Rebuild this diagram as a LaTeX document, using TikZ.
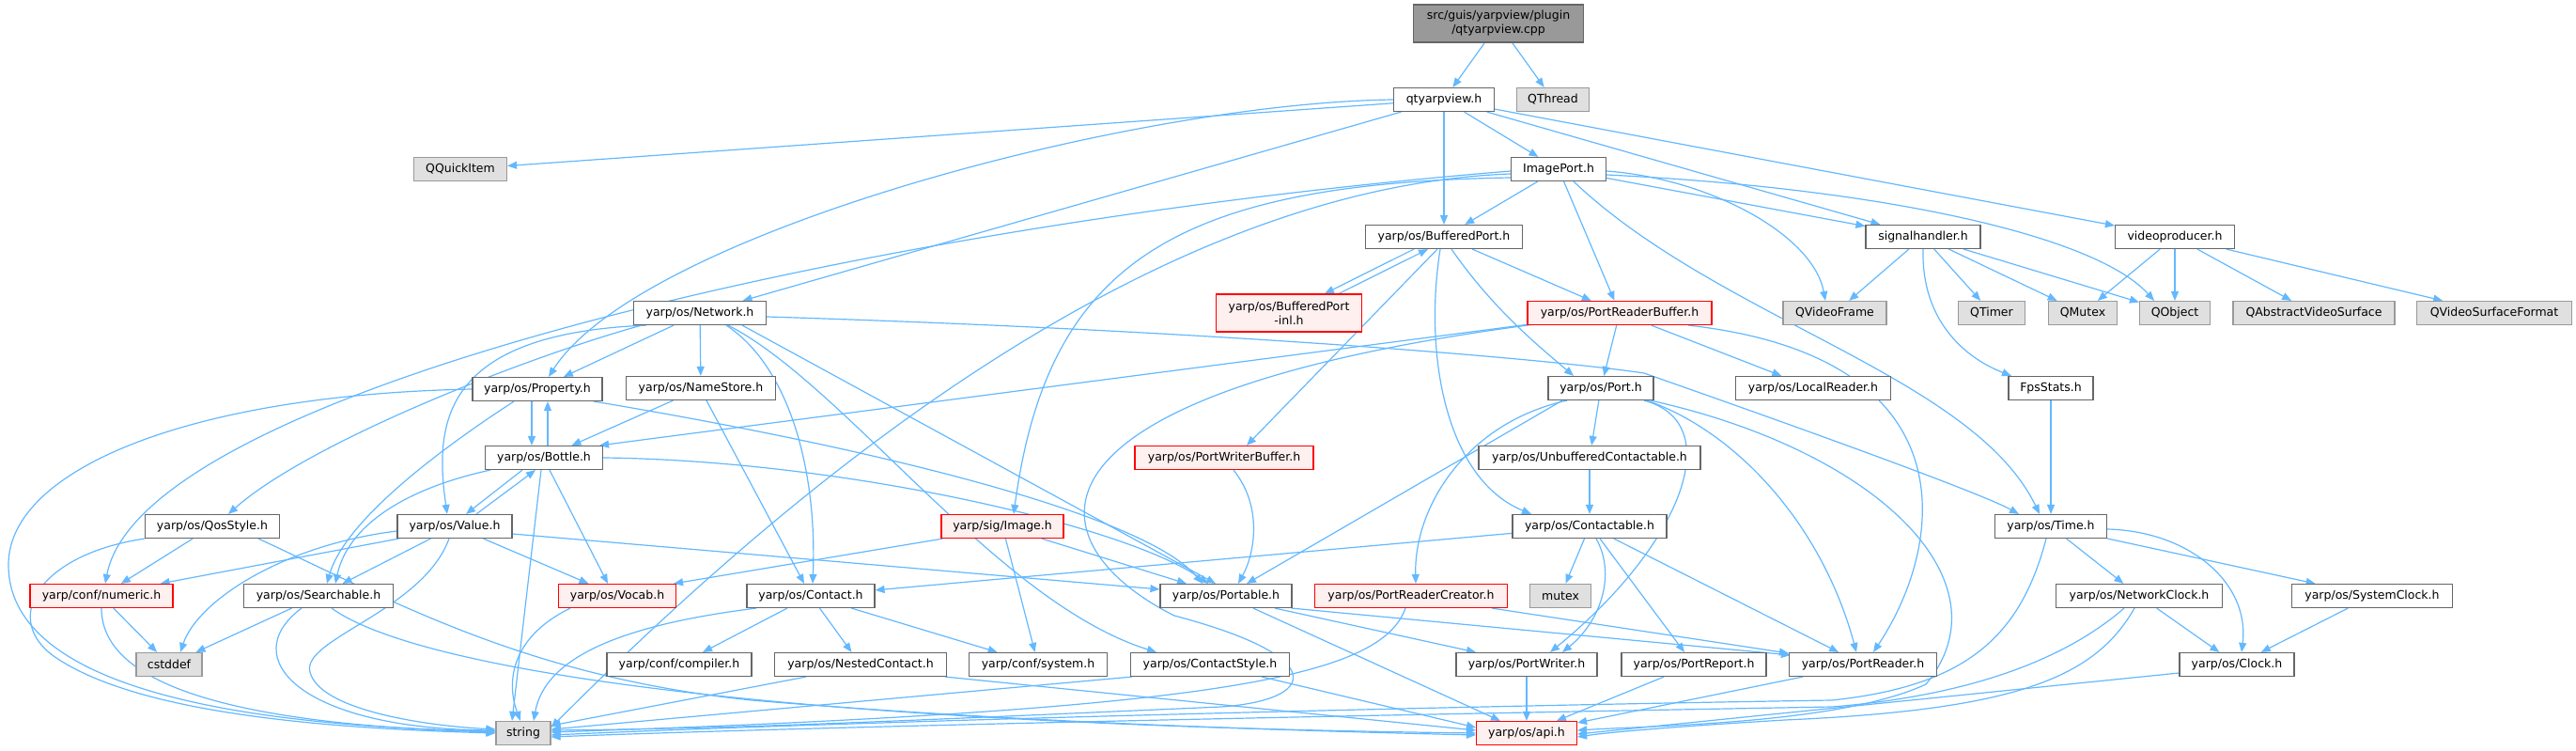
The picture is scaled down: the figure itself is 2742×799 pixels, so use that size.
\documentclass[tikz,border=0pt]{standalone}
\usepackage{fontspec}
\setmainfont{DejaVu Sans}
\usetikzlibrary{arrows.meta}
\definecolor{edgeblue}{HTML}{63B8FF}
\definecolor{nodeborder}{HTML}{666666}
\definecolor{extfill}{HTML}{E0E0E0}
\definecolor{extborder}{HTML}{999999}
\definecolor{rootfill}{HTML}{999999}
\definecolor{redfill}{HTML}{FFF0F0}
\definecolor{redborder}{HTML}{FF0000}
\pgfdeclarelayer{bg}
\pgfsetlayers{bg,main}
\newcommand\nfont{\fontsize{12.5}{15}\selectfont}
\newcommand\nd[5]{\node[#1,minimum width=#4pt] (#2) at (#3) {#5};}
\tikzset{
  box/.style={draw=nodeborder, fill=white, line width=1.15pt, minimum height=25pt, inner sep=0pt, font=\nfont, align=center},
  ext/.style={box, draw=extborder, fill=extfill},
  redbox/.style={box, draw=redborder, fill=redfill},
  rootbox/.style={box, fill=rootfill, minimum height=40pt},
  dep/.style={draw=edgeblue, line width=1.2pt, -{Triangle[length=10pt,width=8pt]}},
}
\begin{document}
\begin{tikzpicture}[x=1pt,y=-1pt]
\useasboundingbox (0,0) rectangle (2742,799);
% ---------- nodes ----------
\nd{rootbox}{root}{1595,25}{181}{src/guis/yarpview/plugin\\/qtyarpview.cpp}
\nd{box}{qtv}{1537,106}{107}{qtyarpview.h}
\nd{ext}{qthread}{1653,106}{77}{QThread}
\nd{ext}{qquick}{490,180}{99}{QQuickItem}
\nd{box}{imgport}{1659,180}{101}{ImagePort.h}
\nd{box}{bport}{1537,252}{167}{yarp/os/BufferedPort.h}
\nd{box}{sighand}{2047,252}{122}{signalhandler.h}
\nd{box}{vprod}{2315,252}{127}{videoproducer.h}
\node[redbox,minimum width=155pt,minimum height=40pt] (inl) at (1372,333) {yarp/os/BufferedPort\\-inl.h};
\nd{box}{network}{745,333}{141}{yarp/os/Network.h}
\nd{redbox}{prb}{1724,333}{196}{yarp/os/PortReaderBuffer.h}
\nd{ext}{qvframe}{1953,333}{110}{QVideoFrame}
\nd{ext}{qtimer}{2120,333}{71}{QTimer}
\nd{ext}{qmutex}{2217,333}{73}{QMutex}
\nd{ext}{qobject}{2315,333}{75}{QObject}
\nd{ext}{qavs}{2463,333}{172}{QAbstractVideoSurface}
\nd{ext}{qvsf}{2655,333}{165}{QVideoSurfaceFormat}
\nd{box}{property}{572,414}{138}{yarp/os/Property.h}
\nd{box}{namestore}{746,413}{159}{yarp/os/NameStore.h}
\nd{box}{port}{1704,413}{112}{yarp/os/Port.h}
\nd{box}{localreader}{1930,413}{165}{yarp/os/LocalReader.h}
\nd{box}{fps}{2183,413}{90}{FpsStats.h}
\nd{box}{bottle}{579,487}{125}{yarp/os/Bottle.h}
\nd{redbox}{pwb}{1303,487}{190}{yarp/os/PortWriterBuffer.h}
\nd{box}{ucont}{1692,487}{236}{yarp/os/UnbufferedContactable.h}
\nd{box}{qos}{226,560}{143}{yarp/os/QosStyle.h}
\nd{box}{value}{484,560}{122}{yarp/os/Value.h}
\nd{redbox}{sigimg}{1067,560}{130}{yarp/sig/Image.h}
\nd{box}{contactable}{1692,560}{164}{yarp/os/Contactable.h}
\nd{box}{time}{2183,560}{119}{yarp/os/Time.h}
\nd{redbox}{numeric}{108,634}{152}{yarp/conf/numeric.h}
\nd{box}{searchable}{339,634}{159}{yarp/os/Searchable.h}
\nd{redbox}{vocab}{657,634}{125}{yarp/os/Vocab.h}
\nd{box}{contact}{863,634}{136}{yarp/os/Contact.h}
\nd{box}{portable}{1305,634}{140}{yarp/os/Portable.h}
\nd{redbox}{prc}{1502,634}{205}{yarp/os/PortReaderCreator.h}
\nd{ext}{mutex}{1661,634}{65}{mutex}
\nd{box}{netclock}{2277,634}{177}{yarp/os/NetworkClock.h}
\nd{box}{sysclock}{2525,634}{171}{yarp/os/SystemClock.h}
\nd{ext}{cstddef}{180,707}{70}{cstddef}
\nd{box}{compiler}{723,707}{154}{yarp/conf/compiler.h}
\nd{box}{nested}{916,707}{183}{yarp/os/NestedContact.h}
\nd{box}{system}{1105,707}{147}{yarp/conf/system.h}
\nd{box}{cstyle}{1288,707}{169}{yarp/os/ContactStyle.h}
\nd{box}{pwriter}{1625,707}{150}{yarp/os/PortWriter.h}
\nd{box}{preport}{1803,707}{154}{yarp/os/PortReport.h}
\nd{box}{preader}{1983,707}{157}{yarp/os/PortReader.h}
\nd{box}{clock}{2381,707}{122}{yarp/os/Clock.h}
\nd{ext}{string}{557,780}{58}{string}
\nd{redbox}{api}{1625,780}{107}{yarp/os/api.h}
% ---------- edges ----------
\begin{pgfonlayer}{bg}
% root
\draw[dep] (root) -- (qtv);
\draw[dep] (root) -- (qthread);
% qtyarpview.h
\draw[dep] (qtv) -- (qquick);
\draw[dep] (qtv.west) .. controls (1200,110) and (680,250) .. ([xshift=12pt]property.north);
\draw[dep] (qtv) -- (network);
\draw[dep] (qtv) -- (bport);
\draw[dep] (qtv) -- (imgport);
\draw[dep] (qtv) -- (sighand);
\draw[dep] (qtv) -- (vprod);
% ImagePort.h
\draw[dep] (imgport) -- (bport);
\draw[dep] (imgport) -- (prb);
\draw[dep] (imgport) -- (sighand);
\draw[dep] ([yshift=-2pt]imgport.east) .. controls (1820,190) and (1930,250) .. ([xshift=-10pt]qvframe.north);
\draw[dep] ([yshift=-6pt]imgport.east) .. controls (2000,200) and (2230,250) .. ([xshift=-22pt]qobject.north);
\draw[dep] ([xshift=16pt]imgport.south) .. controls (1830,340) and (2100,400) .. ([xshift=-12pt]time.north);
\draw[dep] ([yshift=-2pt]imgport.west) .. controls (900,240) and (150,420) .. ([xshift=4pt]numeric.north);
\draw[dep] ([yshift=-5pt]imgport.west) .. controls (1200,200) and (800,560) .. ([yshift=6pt]string.east);
\draw[dep] ([yshift=-9pt]imgport.west) .. controls (1250,195) and (1115,280) .. ([xshift=12pt]sigimg.north);
% BufferedPort.h
\draw[dep] ([xshift=-32pt]bport.south) -- ([xshift=38pt]inl.north);
\draw[dep] ([xshift=53pt]inl.north) -- ([xshift=-17pt]bport.south);
\draw[dep] ([xshift=-7pt]bport.south) -- ([xshift=24pt]pwb.north);
\draw[dep] ([xshift=-4pt]bport.south) .. controls (1515,380) and (1540,510) .. ([xshift=-62pt]contactable.north);
\draw[dep] ([xshift=8pt]bport.south) .. controls (1590,330) and (1640,370) .. ([xshift=-29pt]port.north);
\draw[dep] (bport) -- (prb);
% PortReaderBuffer.h
\draw[dep] (prb) -- (port);
\draw[dep] (prb) -- (localreader);
\draw[dep] ([xshift=73pt]prb.south) .. controls (2100,380) and (2070,580) .. ([xshift=11pt]preader.north);
\draw[dep] ([xshift=2pt,yshift=1pt]prb.south west) -- ([xshift=-4pt]bottle.north east);
\draw[dep] ([xshift=8pt,yshift=1pt]prb.south west) .. controls (1060,420) and (1100,580) .. (1250,655)
   .. controls (1420,700) and (1400,745) .. (1300,752) .. controls (1000,765) and (800,775) .. ([yshift=3pt]string.east);
% Port.h
\draw[dep] (port) -- (ucont);
\draw[dep] ([xshift=-36pt]port.south) .. controls (1560,450) and (1505,540) .. ([xshift=5pt]prc.north);
\draw[dep] ([xshift=-41pt]port.south) -- ([xshift=22pt]portable.north);
\draw[dep] ([xshift=46pt]port.south) .. controls (1840,450) and (1790,580) .. ([xshift=25pt]pwriter.north);
\draw[dep] ([xshift=49pt]port.south) .. controls (1850,460) and (1940,560) .. ([xshift=-7pt]preader.north);
\draw[dep] ([xshift=53pt]port.south) .. controls (2000,480) and (2140,620) .. (2050,728)
   .. controls (1960,770) and (1760,772) .. ([yshift=3pt]api.east);
% Unbuffered / Contactable
\draw[dep] (ucont) -- (contactable);
\draw[dep] (contactable) -- (contact);
\draw[dep] (contactable) -- (mutex);
\draw[dep] ([xshift=7pt]contactable.south) .. controls (1720,610) and (1705,660) .. ([xshift=38pt]pwriter.north);
\draw[dep] ([xshift=11pt]contactable.south) -- ([xshift=-10pt]preport.north);
\draw[dep] (contactable) -- (preader);
% PortReaderCreator.h
\draw[dep] (prc) -- (preader);
\draw[dep] ([xshift=-6pt]prc.south) .. controls (1470,720) and (1300,755) .. ([yshift=1pt]string.east);
% writer / report / reader
\draw[dep] (pwriter) -- (api);
\draw[dep] (preport) -- (api);
\draw[dep] (preader) -- (api);
% PortWriterBuffer.h
\draw[dep] ([xshift=10pt]pwb.south) .. controls (1345,540) and (1335,590) .. ([xshift=13pt]portable.north);
% Network.h
\draw[dep] (network) -- (property);
\draw[dep] (network) -- (namestore);
\draw[dep] ([xshift=-57pt]network.south) .. controls (470,355) and (462,450) .. ([xshift=-8pt]value.north);
\draw[dep] ([xshift=-62pt]network.south) .. controls (560,380) and (330,470) .. ([xshift=17pt]qos.north);
\draw[dep] ([xshift=28pt]network.south) .. controls (840,390) and (870,500) .. ([xshift=2pt]contact.north);
\draw[dep] ([xshift=30pt]network.south) .. controls (900,410) and (1060,640) .. ([xshift=-57pt]cstyle.north);
\draw[dep] ([xshift=45pt]network.south) -- ([xshift=-11pt]portable.north);
\draw[dep] ([yshift=-4pt]network.east) .. controls (1300,352) and (1650,382) .. (1750,397)
   .. controls (1830,425) and (2100,520) .. ([xshift=-34pt]time.north);
% NameStore.h
\draw[dep] (namestore) -- (bottle);
\draw[dep] ([xshift=6pt]namestore.south) -- ([xshift=-7pt]contact.north);
% Property.h
\draw[dep] ([xshift=-6pt]property.south) -- ([xshift=-13pt]bottle.north);
\draw[dep] ([xshift=4pt]bottle.north) -- ([xshift=11pt]property.south);
\draw[dep] (property.west) .. controls (200,420) and (10,500) .. (9,600)
   .. controls (8,700) and (150,770) .. ([yshift=2pt]string.west);
\draw[dep] ([xshift=-25pt]property.south) .. controls (450,490) and (365,560) .. ([xshift=9pt]searchable.north);
\draw[dep] ([xshift=60pt]property.south) .. controls (950,480) and (1220,550) .. ([xshift=-25pt]portable.north);
% Bottle.h
\draw[dep] ([xshift=-23pt]bottle.south) -- ([xshift=12pt]value.north);
\draw[dep] ([xshift=23pt]value.north) -- ([xshift=-9pt]bottle.south);
\draw[dep] ([xshift=-57pt]bottle.south) .. controls (430,520) and (370,560) .. ([xshift=18pt]searchable.north);
\draw[dep] ([xshift=6pt]bottle.south) -- ([xshift=-10pt]vocab.north);
\draw[dep] ([xshift=-3pt]bottle.south) -- ([xshift=-12pt]string.north);
\draw[dep] (bottle.east) .. controls (900,490) and (1200,560) .. ([xshift=-19pt]portable.north);
% Value.h
\draw[dep] ([xshift=2pt]value.south west) -- ([xshift=-14pt]numeric.north east);
\draw[dep] ([yshift=-5pt]value.west) .. controls (300,580) and (210,640) .. ([xshift=12pt]cstddef.north);
\draw[dep] (value) -- (searchable);
\draw[dep] ([xshift=-6pt]value.south) .. controls (450,650) and (320,680) .. (330,715)
   .. controls (340,755) and (450,772) .. ([yshift=4pt]string.west);
\draw[dep] (value) -- (vocab);
\draw[dep] ([yshift=-8pt]value.east) -- ([yshift=7pt]portable.west);
% QosStyle.h
\draw[dep] (qos) -- (numeric);
\draw[dep] (qos.south west) .. controls (40,590) and (0,660) .. (60,700)
   .. controls (150,760) and (350,775) .. (string.west);
\draw[dep] ([xshift=49pt]qos.south) .. controls (420,640) and (560,720) .. (800,745)
   .. controls (1100,770) and (1400,778) .. ([yshift=-2pt]api.west);
% numeric.h
\draw[dep] (numeric) -- (cstddef);
\draw[dep] (numeric.south) .. controls (108,720) and (220,770) .. ([yshift=1pt]string.west);
% Searchable.h
\draw[dep] (searchable) -- (cstddef);
\draw[dep] ([xshift=-18pt]searchable.south) .. controls (250,700) and (320,775) .. ([yshift=3pt]string.west);
\draw[dep] ([xshift=14pt]searchable.south) .. controls (440,710) and (800,770) .. (api.west);
% Vocab.h
\draw[dep] ([xshift=-50pt]vocab.south) .. controls (540,680) and (540,730) .. ([xshift=-3pt]string.north);
% sig/Image.h
\draw[dep] ([xshift=2pt]sigimg.south west) -- ([xshift=-3pt]vocab.north east);
\draw[dep] (sigimg) -- (system);
\draw[dep] (sigimg) -- (portable);
% Contact.h
\draw[dep] (contact) -- (compiler);
\draw[dep] (contact) -- (nested);
\draw[dep] (contact) -- (system);
\draw[dep] ([xshift=-58pt]contact.south) .. controls (660,665) and (580,700) .. ([xshift=11pt]string.north);
% NestedContact.h
\draw[dep] ([xshift=-58pt]nested.south) -- ([yshift=8pt]string.east);
\draw[dep] ([xshift=-2pt]nested.south east) -- ([yshift=3pt]api.west);
% ContactStyle.h
\draw[dep] ([xshift=2pt]cstyle.south west) -- ([yshift=4pt]string.east);
\draw[dep] ([xshift=55pt]cstyle.south) -- ([yshift=6pt]api.west);
% Portable.h
\draw[dep] ([xshift=29pt]portable.south) -- ([xshift=-28pt]api.north);
\draw[dep] ([xshift=52pt]portable.south) -- ([xshift=-54pt]pwriter.north);
\draw[dep] ([xshift=-1pt]portable.south east) -- ([xshift=2pt,yshift=-3pt]preader.north west);
% Time.h
\draw[dep] (time) -- (netclock);
\draw[dep] (time) -- (sysclock);
\draw[dep] ([yshift=-3pt]time.east) .. controls (2330,565) and (2395,620) .. ([xshift=5pt]clock.north);
\draw[dep] ([xshift=-5pt]time.south) .. controls (2150,680) and (2090,730) .. (1950,745)
   .. controls (1500,752) and (900,768) .. ([yshift=-2pt]string.east);
% NetworkClock.h
\draw[dep] (netclock) -- (clock);
\draw[dep] ([xshift=-16pt]netclock.south) .. controls (2200,700) and (2100,740) .. (1950,752)
   .. controls (1500,760) and (900,772) .. ([yshift=-4pt]string.east);
\draw[dep] ([xshift=-5pt]netclock.south) .. controls (2230,720) and (2150,755) .. (1900,766)
   .. controls (1800,772) and (1720,778) .. ([yshift=-4pt]api.east);
\draw[dep] (sysclock) -- (clock);
\draw[dep] ([yshift=-9pt]clock.west) -- ([yshift=-1pt]api.east);
% signalhandler.h
\draw[dep] (sighand) -- (qvframe);
\draw[dep] (sighand) -- (qtimer);
\draw[dep] (sighand) -- (qmutex);
\draw[dep] (sighand) -- (qobject);
\draw[dep] (sighand.south) .. controls (2045,340) and (2090,380) .. ([xshift=-42pt]fps.north);
% videoproducer.h
\draw[dep] (vprod) -- (qmutex);
\draw[dep] (vprod) -- (qobject);
\draw[dep] (vprod) -- (qavs);
\draw[dep] (vprod) -- (qvsf);
% FpsStats.h
\draw[dep] (fps) -- (time);
\end{pgfonlayer}
\end{tikzpicture}
\end{document}
